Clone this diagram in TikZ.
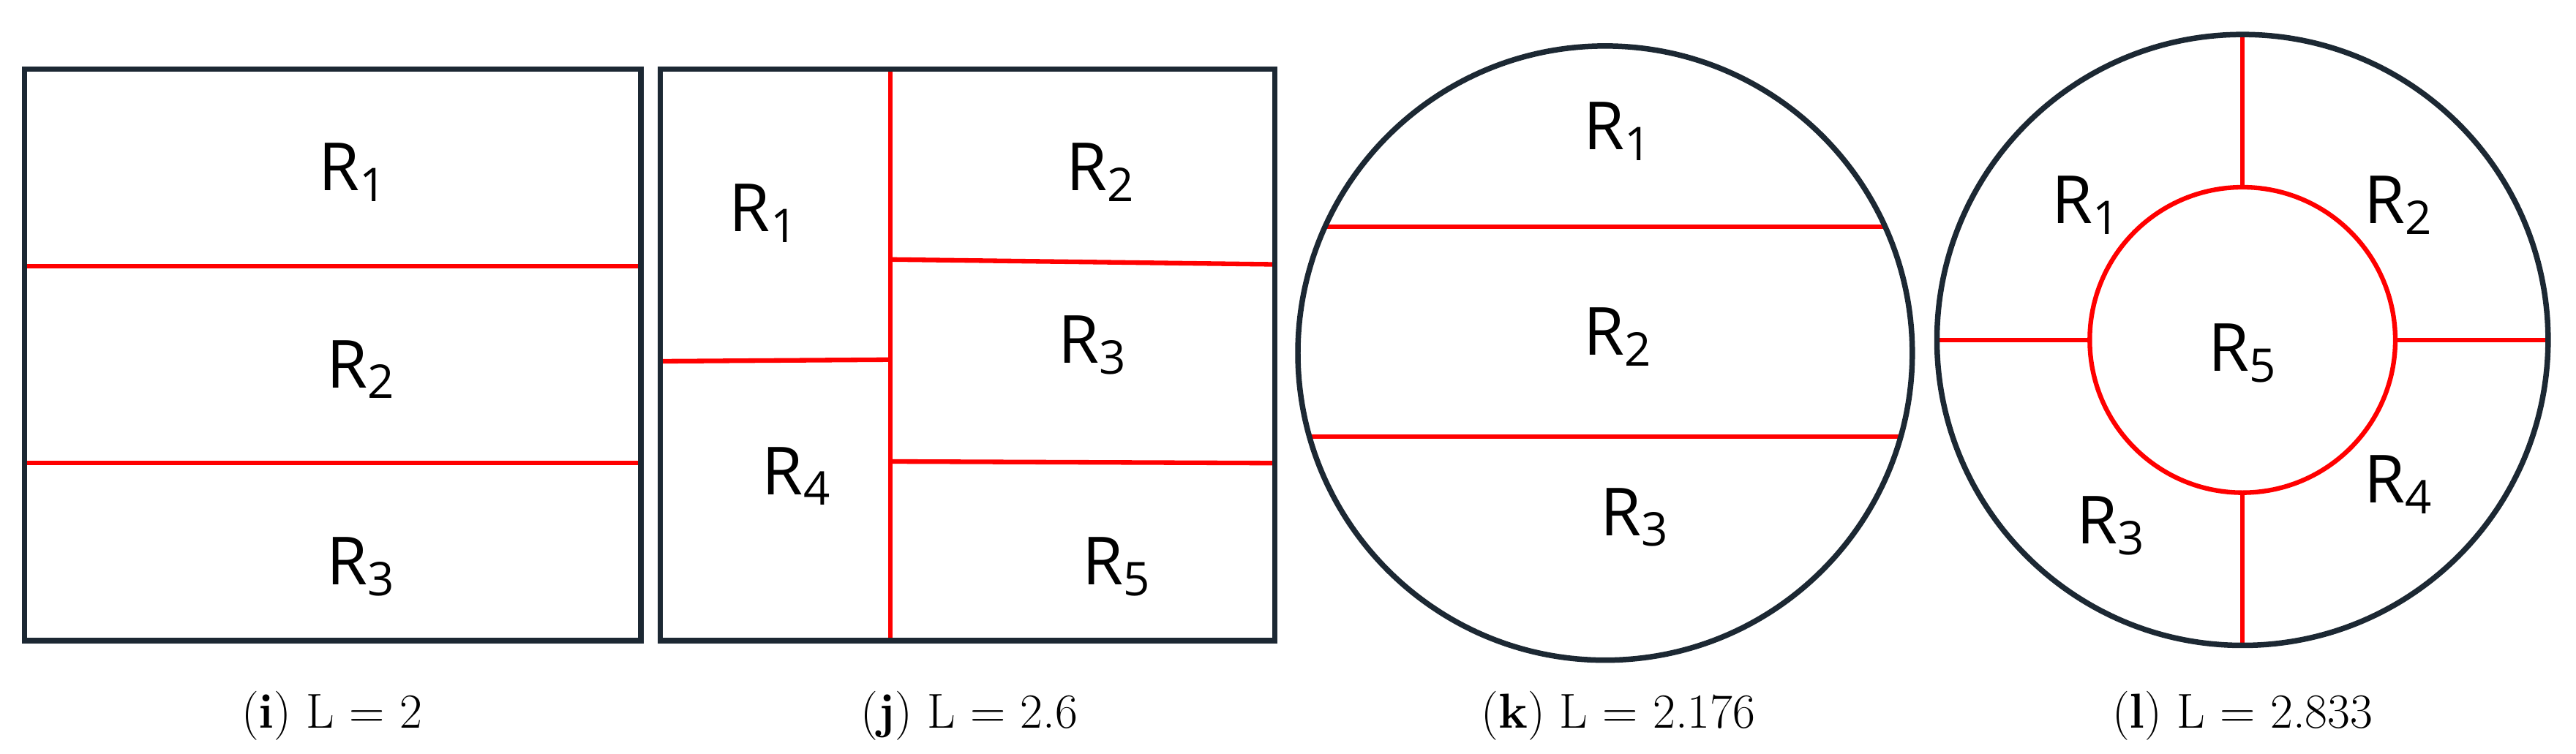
\documentclass[tikz,border=0pt]{standalone}
\usepackage{fontspec}
\newfontfamily\labfont{Open Sans}
\definecolor{frame}{HTML}{1C2833}
\tikzset{
  outline/.style={draw=frame, line width=1.9pt},
  cut/.style={draw=red, line width=1.6pt},
  reg/.style={font=\labfont\fontsize{23}{26}\selectfont},
  caption/.style={font=\fontsize{17}{20}\selectfont}
}
\newcommand{\rg}[1]{R\textsubscript{#1}}
\begin{document}
\begin{tikzpicture}[x=0.02cm, y=-0.02cm]
  \useasboundingbox (0,0) rectangle (1568,459);
  % (i)
  \coordinate (ia) at (15,162); \coordinate (ib) at (390,162);
  \coordinate (ic) at (15,282); \coordinate (id) at (390,282);
  \draw[cut] (ia) -- (ib);
  \draw[cut] (ic) -- (id);
  \draw[outline] (15,42) rectangle (390,390);
  \node[reg] (i1) at (215,105) {\rg{1}};
  \node[reg] (i2) at (220,225) {\rg{2}};
  \node[reg] (i3) at (220,345) {\rg{3}};
  \node[caption] (ci) at (202,436) {(\textbf{i}) L = 2};
  % (j)
  \coordinate (ja) at (542,42); \coordinate (jb) at (542,390);
  \coordinate (jc) at (402,220); \coordinate (jd) at (542,219);
  \coordinate (je) at (542,158); \coordinate (jf) at (776,161);
  \coordinate (jg) at (542,281); \coordinate (jh) at (776,282);
  \draw[cut] (ja) -- (jb);
  \draw[cut] (jc) -- (jd);
  \draw[cut] (je) -- (jf);
  \draw[cut] (jg) -- (jh);
  \draw[outline] (402,42) rectangle (776,390);
  \node[reg] (j1) at (465,130) {\rg{1}};
  \node[reg] (j4) at (485,290) {\rg{4}};
  \node[reg] (j2) at (670,105) {\rg{2}};
  \node[reg] (j3) at (665,210) {\rg{3}};
  \node[reg] (j5) at (680,345) {\rg{5}};
  \node[caption] (cj) at (590,436) {(\textbf{j}) L = 2.6};
  % (k)
  \begin{scope}
    \clip (977,215) circle[radius=187];
    \draw[cut] (780,138) -- (1175,138);
    \draw[cut] (780,266) -- (1175,266);
  \end{scope}
  \draw[outline] (977,215) circle[radius=187];
  \node[reg] (k1) at (985,80) {\rg{1}};
  \node[reg] (k2) at (985,205) {\rg{2}};
  \node[reg] (k3) at (995,315) {\rg{3}};
  \node[caption] (ck) at (985,436) {(\textbf{k}) L = 2.176};
  % (l)
  \coordinate (lc) at (1365,207);
  \draw[cut] (lc) circle[radius=93];
  \draw[cut] (1365,21) -- (1365,114);
  \draw[cut] (1365,300) -- (1365,393);
  \draw[cut] (1179,207) -- (1272,207);
  \draw[cut] (1458,207) -- (1551,207);
  \draw[outline] (lc) circle[radius=186];
  \node[reg] (l1) at (1270,125) {\rg{1}};
  \node[reg] (l2) at (1460,125) {\rg{2}};
  \node[reg] (l5) at (1365,215) {\rg{5}};
  \node[reg] (l3) at (1285,320) {\rg{3}};
  \node[reg] (l4) at (1460,295) {\rg{4}};
  \node[caption] (cl) at (1365,436) {(\textbf{l}) L = 2.833};
\end{tikzpicture}
\end{document}
